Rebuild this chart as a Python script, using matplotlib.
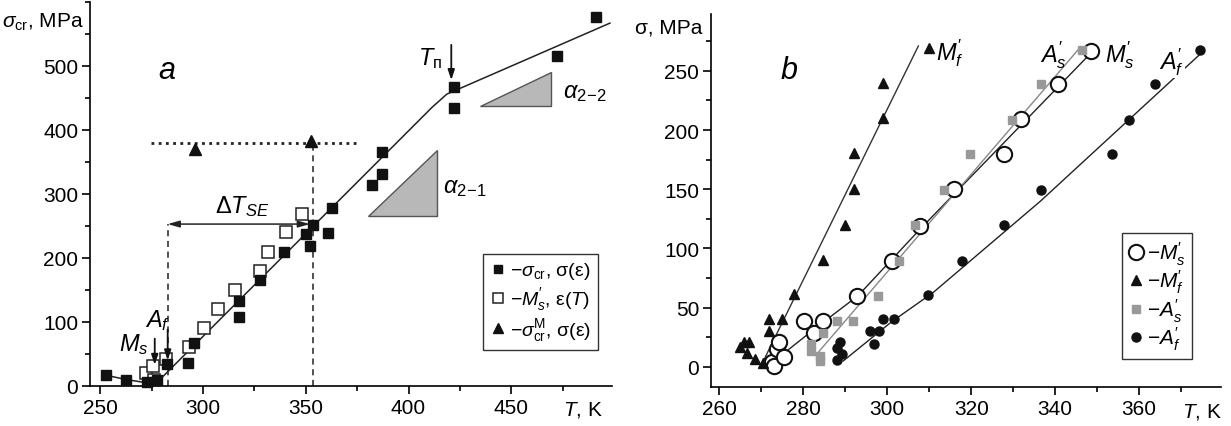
import numpy as np
import matplotlib.pyplot as plt
from matplotlib.ticker import MultipleLocator

plt.rcParams['font.family'] = ['Liberation Sans', 'DejaVu Sans']
plt.rcParams['mathtext.fontset'] = 'custom'
plt.rcParams['mathtext.rm'] = 'Liberation Sans'
plt.rcParams['mathtext.it'] = 'Liberation Sans:italic'
plt.rcParams['mathtext.bf'] = 'Liberation Sans:bold'

################# panel a data

# sigma_cr from sigma(eps) curves
T_cr = [253, 262.7, 272.7, 277.5, 282.4, 292.6, 295.5, 317.4, 317.4, 327.6, 339.4,
        350, 353.3, 352, 362.8, 360.9, 382.2, 387.2, 387.2, 422, 422, 472.2, 491.4]
s_cr = [16.7, 10, 6, 9, 34, 35.5, 67, 133, 108, 165, 209,
        237, 251, 219, 278, 239, 314, 366, 331, 467, 435, 515, 577]

# M's from eps(T)
T_ms_a = [272.2, 275.6, 276, 282, 293, 300.7, 307.2, 315.5, 327.6, 331.5, 340.2, 348.3]
s_ms_a = [21, 31, 10, 42, 61, 90, 120, 150, 180, 209, 240, 269]

# sigma_cr^M
T_crM = [296, 352.3]
s_crM = [370, 383]

# fitted line
T_fit_a = [253, 262.7, 272.7, 276.8, 411.3, 418.6, 498]
s_fit_a = [16.7, 10, 5, 3, 435, 456, 567]

# slope triangles
tri_21_T = [380.5, 413.7, 413.7]
tri_21_s = [266, 266, 368]
tri_22_T = [434.8, 469.2, 469.2]
tri_22_s = [437, 437, 491]

T_Ms, T_Af, T_SE_end, T_p = 276.5, 282.8, 353.7, 420.8
s_dot = 380

################# panel b data

T_Ms_b = [272.5, 272.9, 273.7, 274.1, 275.3, 280.1, 282.5, 284.8, 292.9, 301.1,
          307.9, 315.8, 327.9, 331.9, 340.6, 348.6]
s_Ms_b = [4.5, 0.6, 15, 21, 8.7, 39, 29, 39, 60, 89,
          119, 150, 180, 209, 239, 267]

T_Mf_b = [264.8, 265.8, 267, 266.6, 268.6, 270.4, 271.7, 271.7, 274.9, 277.7,
          284.7, 290, 292, 292.1, 298.9, 298.9, 310]
s_Mf_b = [16.6, 21, 21, 11.8, 6.8, 3.4, 40.5, 30.7, 40.5, 61.7,
          90.4, 120, 150, 181, 210, 240, 269]

T_As_b = [281.8, 281.9, 284, 284, 284.8, 287.9, 291.9, 297.9, 302.8, 306.7,
          313.5, 319.7, 329.6, 336.7, 346.5]
s_As_b = [18.9, 13.8, 9.6, 4.8, 29, 39, 39, 60, 89, 119.4,
          149.6, 180, 208.8, 238.9, 267.8]

T_Af_b = [287.9, 288, 288.8, 289.1, 296.9, 295.8, 298.1, 298.9, 301.7, 309.8,
          317.9, 327.9, 336.7, 353.6, 357.6, 363.8, 374.6]
s_Af_b = [5.6, 16, 21, 11.2, 19.7, 30, 30, 40.7, 40.2, 60.4,
          89, 119.4, 149.6, 180, 208.8, 238.9, 267.8]

T_fit_Mf = [270.2, 307.4]
s_fit_Mf = [3, 271]
T_fit_Ms = [272, 283, 293, 308, 348.5]
s_fit_Ms = [2, 33, 60, 117, 265]
T_fit_As = [282.9, 346]
s_fit_As = [9.6, 270]
T_fit_Af = [289.5, 301, 311, 336.5, 374.5]
s_fit_Af = [5, 38, 63, 140, 264]


def style_axes(ax, fs=15):
    ax.spines['top'].set_visible(False)
    ax.spines['right'].set_visible(False)
    for sp in ['left', 'bottom']:
        ax.spines[sp].set_linewidth(1.2)
    ax.tick_params(which='major', direction='out', length=5.5, width=1.2,
                   labelsize=fs, pad=3)
    ax.tick_params(which='minor', direction='out', length=3.5, width=1.2)


fig = plt.figure(figsize=(12.31, 4.27), dpi=100)
W, H = 1231, 427

def px_axes(x0, y0, x1, y1):
    return fig.add_axes([x0 / W, 1 - y1 / H, (x1 - x0) / W, (y1 - y0) / H])

################# panel a
ax = px_axes(90, 3, 612, 387)
ax.set_xlim(245, 499)
ax.set_ylim(0, 600)
ax.set_xticks([250, 300, 350, 400, 450])
ax.set_yticks([0, 100, 200, 300, 400, 500])
ax.xaxis.set_minor_locator(MultipleLocator(25))
ax.yaxis.set_minor_locator(MultipleLocator(50))
style_axes(ax)

ax.plot(T_fit_a, s_fit_a, color='#222222', lw=1.1, zorder=2)
ax.fill(tri_21_T, tri_21_s, facecolor='#b8b8b8', edgecolor='#555555', lw=1.0)
ax.fill(tri_22_T, tri_22_s, facecolor='#b8b8b8', edgecolor='#555555', lw=1.0)

ax.plot([274.7, 374.8], [s_dot, s_dot], color='#222222', lw=2, ls=(0, (1, 1.6)))
ax.plot([T_Af, T_Af], [0, 253], color='#222222', lw=1.1, ls=(0, (4, 3)))
ax.plot([T_SE_end, T_SE_end], [0, 383], color='#222222', lw=1.1, ls=(0, (4, 3)))
ax.annotate('', xy=(T_Af, 253), xytext=(352, 253),
            arrowprops=dict(arrowstyle='<|-|>,head_length=0.7,head_width=0.2',
                            color='#222222', lw=1.1, shrinkA=0, shrinkB=0))

p1, = ax.plot(T_cr, s_cr, 's', color='#111111', ms=7, zorder=4, clip_on=False)
p2, = ax.plot(T_ms_a, s_ms_a, 's', mfc='white', mec='#222222', mew=1.1, ms=9,
              zorder=3, clip_on=False)
p3, = ax.plot(T_crM, s_crM, '^', color='#111111', ms=8, zorder=4)

arr = dict(arrowstyle='-|>,head_length=0.6,head_width=0.2', color='#111111',
           lw=1.3, shrinkA=0, shrinkB=0)
ax.annotate('', xy=(T_Ms, 33), xytext=(T_Ms, 74), arrowprops=arr)
ax.annotate('', xy=(T_Af, 40), xytext=(T_Af, 88), arrowprops=arr)
ax.annotate('', xy=(T_p, 478), xytext=(T_p, 533), arrowprops=arr)

ax.text(266.5, 66, r'$M_s$', fontsize=17, ha='center', va='center')
ax.text(277.8, 104, r'$A_f$', fontsize=17, ha='center', va='center')
ax.text(410.5, 513, r'$T_{\mathrm{п}}$', fontsize=17, ha='center', va='center')
ax.text(319, 282, r'$\Delta T_{SE}$', fontsize=17, ha='center', va='center')
ax.text(417, 311, r'$\alpha_{2\!-\!1}$', fontsize=17, ha='left', va='center')
ax.text(475.3, 459, r'$\alpha_{2\!-\!2}$', fontsize=17, ha='left', va='center')
ax.text(282.4, 494, 'a', fontsize=22, fontstyle='italic', ha='center', va='center')

leg = ax.legend([p1, p2, p3],
                [r'$-\sigma_{\mathrm{cr}}$, σ(ε)', r"$-M^{\prime}_{s}$, ε($T$)",
                 r'$-\sigma_{\mathrm{cr}}^{\mathrm{M}}$, σ(ε)'],
                loc='upper left', bbox_to_anchor=(0.735, 0.37), fontsize=14,
                frameon=True, fancybox=False, edgecolor='#333333', framealpha=1,
                handlelength=0.8, handletextpad=0.2, labelspacing=0.2,
                borderpad=0.35, markerscale=0.85)
leg.get_frame().set_linewidth(1.0)

fig.text(84 / W, 1 - 22 / H, r'$\sigma_{\mathrm{cr}}$, MPa', fontsize=15,
         ha='right', va='center')
fig.text(603 / W, 1 - 410 / H, r'$T$, K', fontsize=15, ha='right', va='center')

################# panel b
bx = px_axes(711, 15, 1221, 388)
bx.set_xlim(258, 379.5)
bx.set_ylim(-17, 298)
bx.set_xticks([260, 280, 300, 320, 340, 360])
bx.set_yticks([0, 50, 100, 150, 200, 250])
bx.xaxis.set_minor_locator(MultipleLocator(10))
bx.yaxis.set_minor_locator(MultipleLocator(25))
style_axes(bx)

bx.plot(T_fit_Mf, s_fit_Mf, color='#333333', lw=1.0)
bx.plot(T_fit_Ms, s_fit_Ms, color='#222222', lw=1.0)
bx.plot(T_fit_As, s_fit_As, color='#888888', lw=1.0)
bx.plot(T_fit_Af, s_fit_Af, color='#222222', lw=1.0)

q1, = bx.plot(T_Ms_b, s_Ms_b, 'o', mfc='white', mec='#111111', mew=1.5, ms=11, zorder=3)
q2, = bx.plot(T_Mf_b, s_Mf_b, '^', color='#111111', ms=7.5, zorder=4)
q3, = bx.plot(T_As_b, s_As_b, 's', color='#999999', ms=5.5, zorder=4)
q4, = bx.plot(T_Af_b, s_Af_b, 'o', color='#111111', ms=6.5, zorder=4)

bx.text(311.5, 266, r"$M^{\prime}_{f}$", fontsize=17, ha='left', va='center')
bx.text(339.6, 264, r"$A^{\prime}_{s}$", fontsize=17, ha='center', va='center')
bx.text(355.3, 264, r"$M^{\prime}_{s}$", fontsize=17, ha='center', va='center')
bx.text(367.8, 258, r"$A^{\prime}_{f}$", fontsize=17, ha='center', va='center',
        bbox=dict(facecolor='white', edgecolor='none', pad=0.5))
bx.text(276.7, 251, 'b', fontsize=22, fontstyle='italic', ha='center', va='center')

leg = bx.legend([q1, q2, q3, q4],
                [r"$-M^{\prime}_{s}$", r"$-M^{\prime}_{f}$", r"$-A^{\prime}_{s}$",
                 r"$-A^{\prime}_{f}$"],
                loc='upper left', bbox_to_anchor=(0.785, 0.44), fontsize=15,
                frameon=True, fancybox=False, edgecolor='#333333', framealpha=1,
                handlelength=0.8, handletextpad=0.1, labelspacing=0.05,
                borderpad=0.3)
leg.get_frame().set_linewidth(1.0)

fig.text(702 / W, 1 - 28 / H, 'σ, MPa', fontsize=15, ha='right', va='center')
fig.text(1222 / W, 1 - 412 / H, r'$T$, K', fontsize=15, ha='right', va='center')

plt.savefig('out.png', dpi=100)
